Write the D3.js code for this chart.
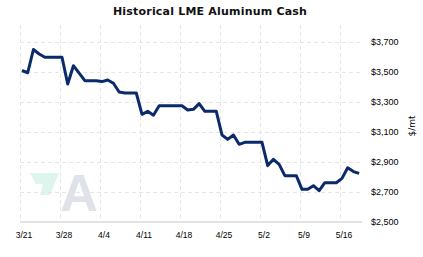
<!DOCTYPE html>
<html>
<head>
<meta charset="utf-8">
<script src="https://cdn.jsdelivr.net/npm/d3@7"></script>
<style>
  body { margin: 0; background: #fff; }
  svg { display: block; font-family: "DejaVu Sans", Verdana, sans-serif; }
</style>
</head>
<body>
<script>
// LME aluminium cash, daily (weekends carry the last price), Mar 21 - May 19 2022
const START = new Date(2022, 2, 21)
const prices = [
  3510, 3495, 3650, 3620, 3598, 3598, 3598,
  3598, 3420, 3542, 3493, 3442, 3442, 3442,
  3436, 3447, 3425, 3367, 3360, 3360, 3360,
  3218, 3238, 3212, 3275, 3275, 3275, 3275,
  3275, 3247, 3251, 3289, 3238, 3238, 3238,
  3080, 3051, 3080, 3018, 3031, 3031, 3031,
  3031, 2876, 2918, 2884, 2809, 2809, 2809,
  2718, 2718, 2742, 2709, 2762, 2762, 2762,
  2791, 2862, 2836, 2824
]
const yTicks = [2500, 2700, 2900, 3100, 3300, 3500, 3700]
const title = "Historical LME Aluminum Cash"
const unit = "$/mt"

const WIDTH = 423
const HEIGHT = 257
const PLOT = {LEFT: 20, RIGHT: 362, TOP: 25, BOTTOM: 222}

const data = prices.map((v, i) => ({date: d3.timeDay.offset(START, i), value: v}))

const svg = d3.select("body").append("svg")
  .attr("width", WIDTH)
  .attr("height", HEIGHT)

const x = d3.scaleTime()
  .domain([START, new Date(2022, 4, 16)])
  .range([20, 340])

const y = d3.scaleLinear()
  .domain([2500, 3700])
  .range([PLOT.BOTTOM, 42])

const mondays = d3.timeMonday.range(START, d3.timeDay.offset(data[data.length - 1].date, 1))

// watermark
const wm = svg.append("g")
wm.append("path")
  .attr("d", "M30,173 L59,173 L50,195 L40,195 L43,184 L36,184 Z")
  .attr("fill", "#ddf5ec")
wm.append("text")
  .attr("x", 79)
  .attr("y", 211)
  .attr("text-anchor", "middle")
  .attr("font-family", "Liberation Sans, Arial, sans-serif")
  .attr("font-weight", "bold")
  .attr("font-size", "52px")
  .attr("fill", "#dfe2e8")
  .text("A")

// grid
const grid = svg.append("g")
  .attr("stroke", "#e6e6e6")
  .attr("stroke-dasharray", "4,3")

grid.selectAll(".vgrid").data(mondays).enter().append("line")
  .attr("x1", d => x(d) + 0.5)
  .attr("x2", d => x(d) + 0.5)
  .attr("y1", PLOT.TOP)
  .attr("y2", PLOT.BOTTOM)

grid.selectAll(".hgrid").data(yTicks.slice(1)).enter().append("line")
  .attr("x1", PLOT.LEFT)
  .attr("x2", PLOT.RIGHT)
  .attr("y1", d => Math.round(y(d)) + 0.5)
  .attr("y2", d => Math.round(y(d)) + 0.5)

// bottom axis
const xAxisGroup = svg.append("g")
  .attr("transform", `translate(0, ${PLOT.BOTTOM})`)
xAxisGroup.call(d3.axisBottom(x)
  .tickValues(mondays)
  .tickSize(0)
  .tickPadding(9.5)
  .tickFormat(d3.timeFormat("%-m/%-d")))
xAxisGroup.select(".domain").remove()
xAxisGroup.selectAll("text")
  .attr("dx", 3.5)
  .attr("font-size", "8.5px")
  .attr("fill", "#000")
xAxisGroup.append("line")
  .attr("x1", PLOT.LEFT)
  .attr("x2", PLOT.RIGHT)
  .attr("stroke", "#e3e3e3")
  .attr("stroke-width", 2)

// right axis
const yAxisGroup = svg.append("g")
  .attr("transform", `translate(${PLOT.RIGHT}, 0)`)
yAxisGroup.call(d3.axisRight(y)
  .tickValues(yTicks)
  .tickSize(0)
  .tickPadding(9)
  .tickFormat(d => "$" + d3.format(",")(d)))
yAxisGroup.select(".domain").remove()
yAxisGroup.selectAll("text")
  .attr("font-size", "9px")
  .attr("fill", "#000")

svg.append("text")
  .attr("transform", "translate(415, 126) rotate(-90)")
  .attr("text-anchor", "middle")
  .attr("font-size", "9px")
  .text(unit)

svg.append("text")
  .attr("x", 210)
  .attr("y", 15)
  .attr("text-anchor", "middle")
  .attr("font-size", "11px")
  .attr("font-weight", "bold")
  .attr("letter-spacing", "0.2px")
  .attr("fill", "#111")
  .text(title)

// price line
const line = d3.line()
  .x(d => x(d.date) + 2)
  .y(d => y(d.value))

svg.append("path")
  .datum(data)
  .attr("fill", "none")
  .attr("stroke", "#0a2a6a")
  .attr("stroke-width", 3)
  .attr("stroke-linejoin", "round")
  .attr("d", line)
</script>
</body>
</html>
